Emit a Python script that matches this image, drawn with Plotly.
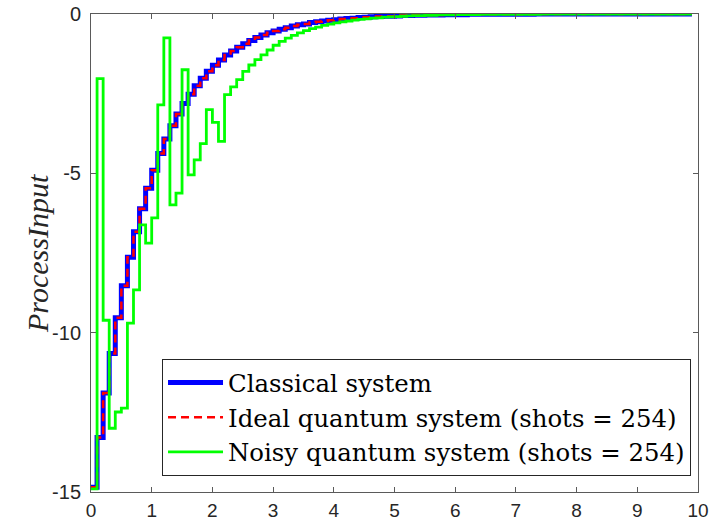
import numpy as np
import plotly.graph_objects as go

# sample times (Ts = 0.1 s)
t = np.round(np.arange(100) * 0.1, 1)

classical = [
    -14.85, -13.29, -11.89, -10.65, -9.53, -8.53, -7.63, -6.83, -6.11, -5.47,
    -4.90, -4.38, -3.92, -3.51, -3.14, -2.81, -2.52, -2.25, -2.02, -1.80,
    -1.61, -1.44, -1.29, -1.16, -1.04, -0.93, -0.83, -0.74, -0.66, -0.59,
    -0.53, -0.48, -0.43, -0.38, -0.34, -0.31, -0.27, -0.24, -0.22, -0.20,
    -0.18, -0.16, -0.14, -0.13, -0.11, -0.10, -0.09, -0.08, -0.07, -0.07,
    -0.06, -0.05, -0.05, -0.04, -0.04, -0.03, -0.03, -0.03, -0.02, -0.02,
    -0.02, -0.02, -0.01, -0.01, -0.01, -0.01, -0.01, -0.01, -0.01, -0.01,
    -0.01, -0.01, -0.01, 0.00, 0.00, 0.00, 0.00, 0.00, 0.00, 0.00,
    0.00, 0.00, 0.00, 0.00, 0.00, 0.00, 0.00, 0.00, 0.00, 0.00,
    0.00, 0.00, 0.00, 0.00, 0.00, 0.00, 0.00, 0.00, 0.00, 0.00,
]

ideal = [
    -14.85, -13.29, -11.89, -10.65, -9.53, -8.53, -7.63, -6.83, -6.11, -5.47,
    -4.90, -4.38, -3.92, -3.51, -3.14, -2.81, -2.52, -2.25, -2.02, -1.80,
    -1.61, -1.44, -1.29, -1.16, -1.04, -0.93, -0.83, -0.74, -0.66, -0.59,
    -0.53, -0.48, -0.43, -0.38, -0.34, -0.31, -0.27, -0.24, -0.22, -0.20,
    -0.18, -0.16, -0.14, -0.13, -0.11, -0.10, -0.09, -0.08, -0.07, -0.07,
    -0.06, -0.05, -0.05, -0.04, -0.04, -0.03, -0.03, -0.03, -0.02, -0.02,
    -0.02, -0.02, -0.01, -0.01, -0.01, -0.01, -0.01, -0.01, -0.01, -0.01,
    -0.01, -0.01, -0.01, 0.00, 0.00, 0.00, 0.00, 0.00, 0.01, 0.00,
    0.01, 0.00, 0.01, 0.00, 0.01, 0.00, 0.01, 0.00, 0.01, 0.00,
    0.01, 0.00, 0.01, 0.00, 0.01, 0.00, 0.01, 0.00, 0.00, 0.00,
]

noisy = [
    -14.90, -2.03, -9.61, -13.00, -12.49, -12.37, -9.70, -8.66, -6.62, -7.19,
    -6.40, -2.85, -0.75, -5.99, -5.62, -1.75, -5.05, -4.58, -4.07, -3.00,
    -3.40, -4.00, -2.53, -2.29, -2.06, -1.80, -1.60, -1.43, -1.28, -1.13,
    -0.98, -0.86, -0.76, -0.67, -0.59, -0.52, -0.46, -0.41, -0.36, -0.32,
    -0.28, -0.25, -0.22, -0.19, -0.17, -0.15, -0.13, -0.12, -0.10, -0.09,
    -0.08, -0.07, -0.06, -0.05, -0.05, -0.04, -0.04, -0.03, -0.03, -0.03,
    -0.02, -0.02, -0.02, -0.02, -0.01, -0.01, -0.01, -0.01, -0.01, -0.01,
    -0.01, -0.01, -0.01, -0.01, 0.00, 0.00, 0.00, 0.00, 0.00, 0.00,
    0.00, 0.00, 0.00, 0.00, 0.00, 0.00, 0.00, 0.00, 0.00, 0.00,
    0.00, 0.00, 0.00, 0.00, 0.00, 0.00, 0.00, 0.00, 0.00, 0.00,
]

names = [
    "Classical system",
    "Ideal quantum system (shots = 254)",
    "Noisy quantum system (shots = 254)",
]
y_title = "<i>ProcessInput</i>"

xticks = [0, 1, 2, 3, 4, 5, 6, 7, 8, 9, 10]
yticks = [-15, -10, -5, 0]
yticklabels = ["-15", "-10", "-5", "0"]

fig = go.Figure()
fig.add_trace(go.Scatter(x=t, y=classical, mode="lines", line_shape="hv",
                         line=dict(color="#0000FF", width=5), name=names[0]))
fig.add_trace(go.Scatter(x=t, y=ideal, mode="lines", line_shape="hv",
                         line=dict(color="#FF0000", width=2.5, dash="8px,5px"), name=names[1]))
fig.add_trace(go.Scatter(x=t, y=noisy, mode="lines", line_shape="hv",
                         line=dict(color="#00FF00", width=2.8), name=names[2]))

axis_common = dict(
    showgrid=False, zeroline=False, showline=True, linecolor="#5a5a5a", linewidth=1,
    mirror="ticks", ticks="inside", ticklen=5, tickcolor="#5a5a5a", automargin=False,
)

fig.update_layout(
    width=713, height=523,
    margin=dict(l=91, r=15, t=14, b=31),
    paper_bgcolor="white", plot_bgcolor="white",
    xaxis=dict(range=[0, 10], tickvals=xticks, ticklabelstandoff=1,
               tickfont=dict(family="Liberation Sans, Arial, sans-serif", size=19, color="#262626"),
               **axis_common),
    yaxis=dict(range=[-15, 0], tickvals=yticks, ticktext=yticklabels, ticklabelstandoff=5,
               tickfont=dict(family="Liberation Sans, Arial, sans-serif", size=20, color="#262626"),
               **axis_common),
    legend=dict(x=0.117, y=0.278, xanchor="left", yanchor="top",
                bgcolor="white", bordercolor="#262626", borderwidth=1,
                font=dict(family="DejaVu Serif, serif", size=24.4, color="#000000"),
                tracegroupgap=0, itemwidth=55),
    showlegend=True,
    annotations=[dict(text=y_title, xref="paper", yref="paper",
                      x=-0.089, y=0.5, xanchor="center", yanchor="middle",
                      textangle=-90, showarrow=False,
                      font=dict(family="Liberation Serif, serif", size=30, color="#262626"))],
)

fig.write_html("out.html")
